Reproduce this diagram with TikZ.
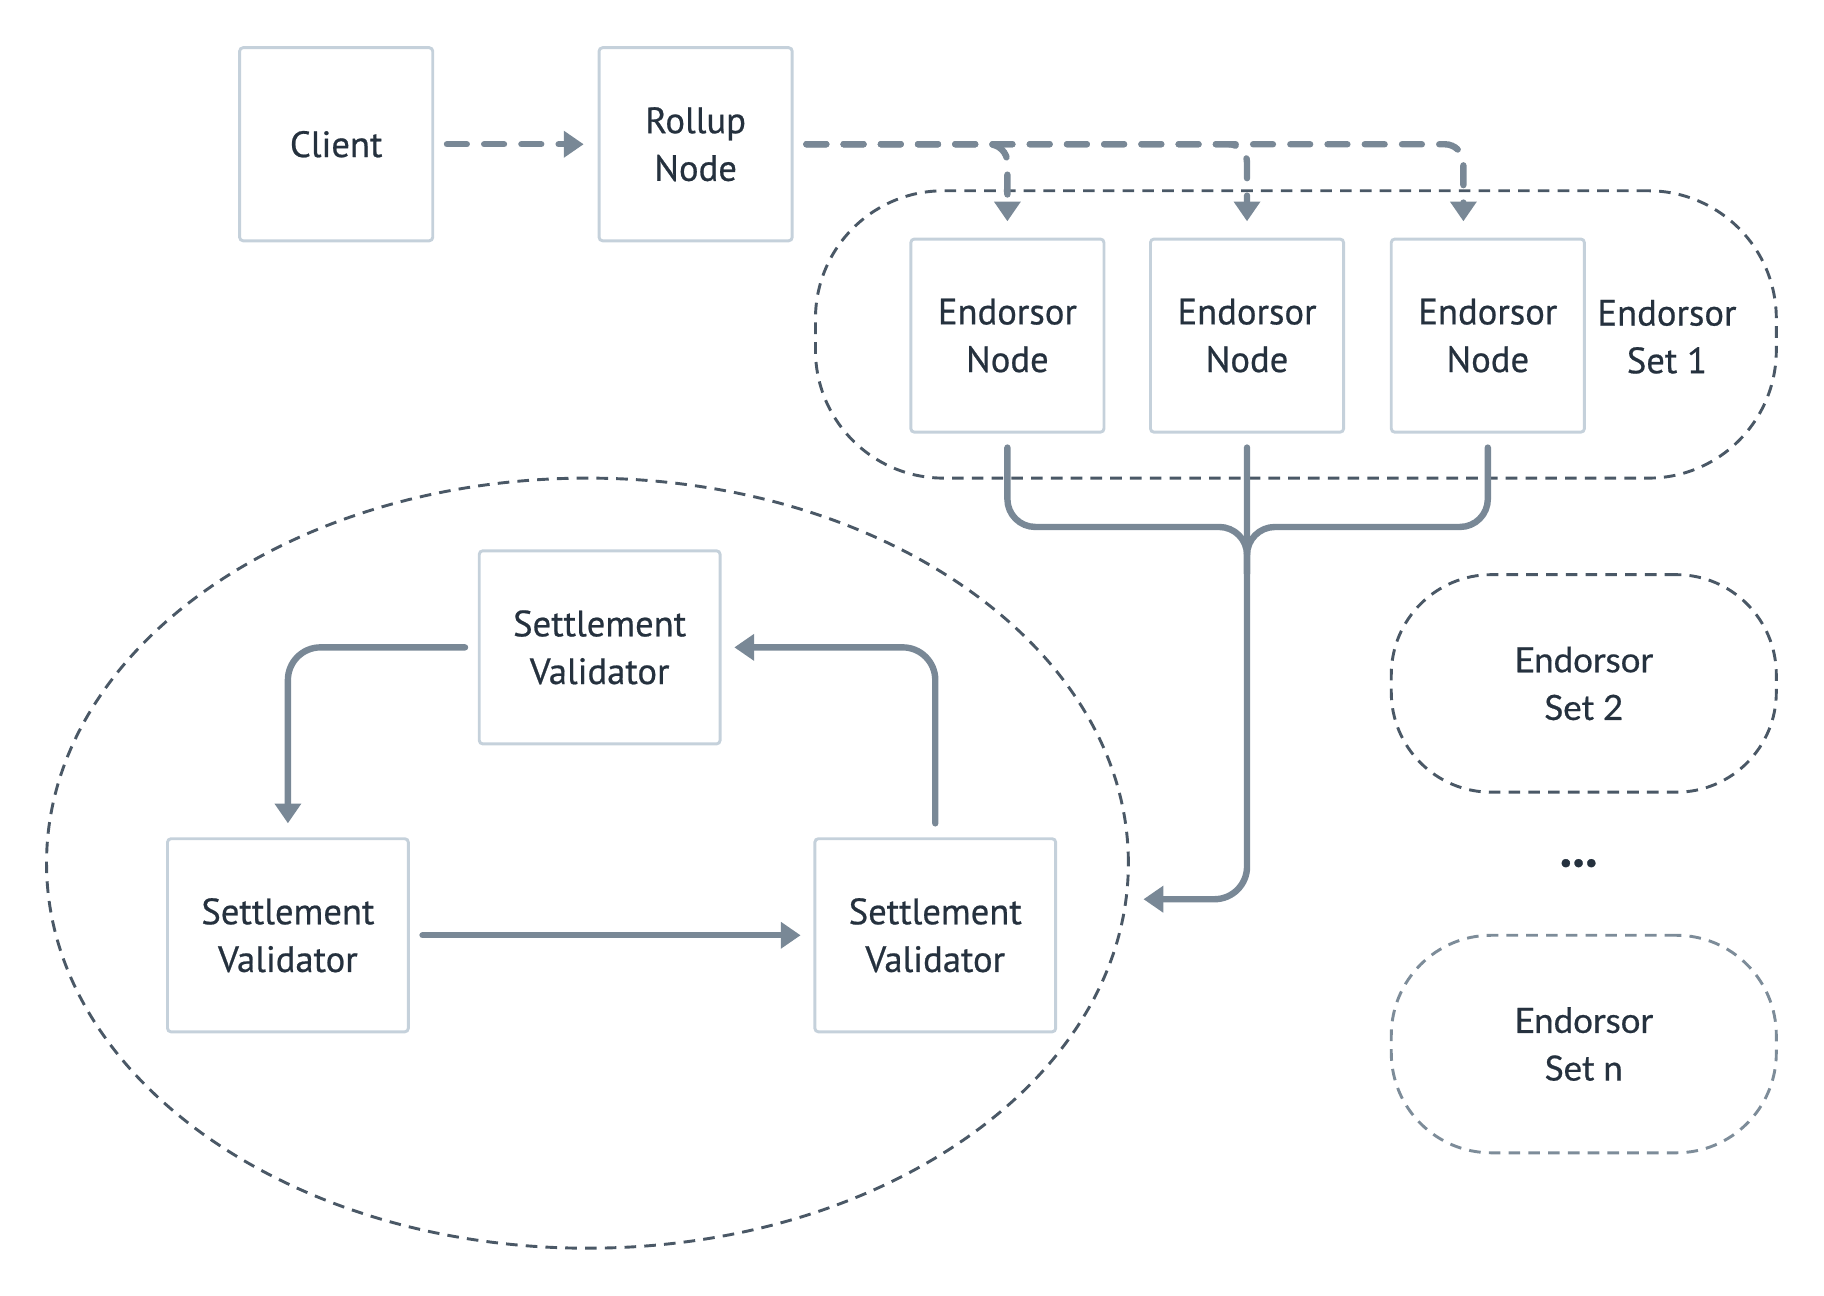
\documentclass[tikz,border=0pt]{standalone}
\usepackage{fontspec}
\setmainfont{PT Sans}[FakeBold=0.6]
\newfontfamily\setlabelfont{Lato}[FakeBold=0.5]
\usetikzlibrary{arrows.meta,positioning,shapes.geometric}
\definecolor{boxline}{HTML}{C5D1DB}
\definecolor{wire}{HTML}{798896}
\definecolor{rim}{HTML}{4A5866}
\definecolor{rimlight}{HTML}{7D8C99}
\definecolor{ink}{HTML}{25313E}
\newcommand\diagfont{\fontsize{31.5}{41}\selectfont}
\newcommand\setfontsize{\fontsize{30}{41}\selectfont}
\begin{document}
\begin{tikzpicture}[x=1pt,y=-1pt,
    box/.style={draw=boxline,line width=2.5pt,rounded corners=3pt,minimum width=166pt,minimum height=166pt,align=center,text=ink,font=\diagfont},
    wide box/.style={box,minimum width=207pt},
    group/.style={draw=rim,line width=2.5pt,dash pattern=on 10pt off 7pt},
    flow/.style={draw=wire,line width=5.5pt,line cap=round,-{Triangle[width=22pt,length=17pt]}},
    dash flow/.style={flow,dash pattern=on 17pt off 15pt}]
    \useasboundingbox (0,0) rectangle (1568,1114);

    % groups
    \node[group,ellipse,minimum width=930pt,minimum height=662pt] at (505,742) (settle) {};
    \node[group,rounded corners=110pt,minimum width=826pt,minimum height=247pt] at (1114,287.5) (setA) {};
    \node[group,rounded corners=86pt,minimum width=331pt,minimum height=187pt,align=center,text=ink,font=\setlabelfont\setfontsize] at (1361.5,587.5) (setB) {Endorsor\\Set 2};
    \node[group,draw=rimlight,rounded corners=86pt,minimum width=331pt,minimum height=187pt,align=center,text=ink,font=\setlabelfont\setfontsize] at (1361.5,897.5) (setN) {Endorsor\\Set n};
    \node[text=ink,inner sep=0pt,font=\setlabelfont\bfseries\fontsize{46}{46}\selectfont] at (1357,742) (dots) {...};

    % boxes
    \node[box] at (289,124) (client) {Client};
    \node[box] at (598,124) (rollup) {Rollup\\Node};
    \node[box] at (866,288.5) (endA) {Endorsor\\Node};
    \node[box] at (1072,288.5) (endB) {Endorsor\\Node};
    \node[box] at (1279,288.5) (endC) {Endorsor\\Node};
    \node[text=ink,font=\diagfont,align=center] at (1433,289.5) (setAlabel) {Endorsor\\Set 1};
    \node[wide box] at (515.5,556.5) (svTop) {Settlement\\Validator};
    \node[wide box] at (247.5,804) (svLeft) {Settlement\\Validator};
    \node[wide box] at (804,804) (svRight) {Settlement\\Validator};

    \coordinate (join) at (1072,453);
    \coordinate (settleIn) at (983,773);

    % requests
    \draw[dash flow,shorten <=11pt,shorten >=12pt] (client) -- (rollup);
    \draw[dash flow,rounded corners=16pt,shorten <=11pt,shorten >=14pt] (rollup) -| ([xshift=-21pt]endC.north);
    \draw[dash flow,rounded corners=16pt,shorten <=11pt,shorten >=14pt] (rollup) -| (endB);
    \draw[dash flow,rounded corners=16pt,shorten <=11pt,shorten >=14pt] (rollup) -| (endA);

    % endorsements
    \draw[flow,-,rounded corners=24pt,shorten <=12pt] (endA) |- (join) -- ++(0,40);
    \draw[flow,-,rounded corners=24pt,shorten <=12pt] (endC) |- (join) -- ++(0,40);
    \draw[flow,rounded corners=28pt,shorten <=12pt] (endB) |- (settleIn);

    % settlement
    \draw[flow,rounded corners=28pt,shorten <=11pt,shorten >=12pt] (svTop) -| (svLeft);
    \draw[flow,rounded corners=28pt,shorten <=12pt,shorten >=11pt] (svRight) |- (svTop);
    \draw[flow,shorten <=11pt,shorten >=11pt] (svLeft) -- (svRight);
\end{tikzpicture}
\end{document}
